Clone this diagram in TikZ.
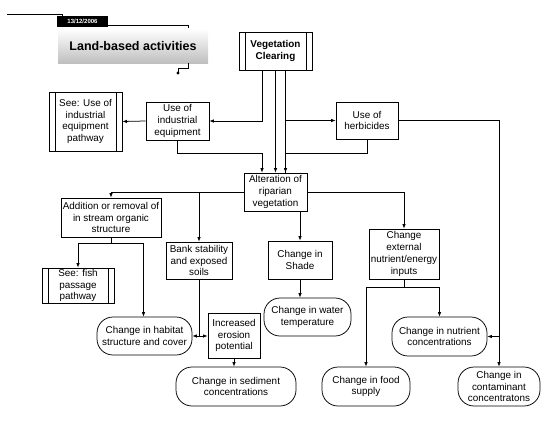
\documentclass[tikz,border=0pt]{standalone}
\usepackage{fontspec}
\setmainfont{Liberation Sans}
\usetikzlibrary{arrows.meta}
\tikzset{
	box/.style = {
		draw,
		rectangle,
		align=center,
		inner sep=1pt,
		line width=0.75pt,
		font=\fontsize{9.9}{11.8}\selectfont
	},
	pathbox/.style = {
		box,
		path picture={
			\draw[line width=0.75pt] ([xshift=6pt]path picture bounding box.north west) -- ([xshift=6pt]path picture bounding box.south west);
			\draw[line width=0.75pt] ([xshift=-6pt]path picture bounding box.north east) -- ([xshift=-6pt]path picture bounding box.south east);
		}
	},
	outcome/.style = {
		box,
		rounded corners=16pt
	},
	dims/.style 2 args = {
		minimum width=#1pt,
		minimum height=#2pt
	}
}
\tikzstyle{flow} = [-{Latex[length=4.5pt,width=3.5pt]}, line width=0.75pt]
\tikzstyle{link} = [line width=0.75pt]

\begin{document}
\begin{tikzpicture}[x=1pt, y=-1pt]
\useasboundingbox (0,0) rectangle (548,420);
% title banner
\draw[link] (7,14) -- (62,14) -- (62,16);
\node[fill=black, text=white, dims={51}{11}, inner sep=0pt, font=\fontsize{6}{6}\selectfont\bfseries] (date) at (82.5,21.5) {13/12/2006};
\draw[link] (108,25) -- (188,25) -- (188,29);
\node[top color=white, bottom color=black!25, dims={150}{34}, font=\fontsize{12.5}{14}\selectfont\bfseries] (title) at (133,46) {Land-based activities};
\draw[link] (188,63) -- (188,68) -- (178,68) -- (178,72);
\fill (178,73) circle (1.6);

% boxes
\node[pathbox, dims={73}{38}, font=\fontsize{9.9}{11.8}\selectfont\bfseries] (veg) at (275.5,51) {Vegetation\\Clearing};
\node[pathbox, dims={73}{59}] (seeind) at (85.5,121.5) {See: Use of\\industrial\\equipment\\pathway};
\node[box, dims={63}{38}] (ind) at (177.5,121) {Use of\\industrial\\equipment};
\node[box, dims={62}{37}] (herb) at (367,120.5) {Use of\\herbicides};
\node[box, dims={63}{38}] (alt) at (275.5,192) {Alteration of\\riparian\\vegetation};
\node[box, dims={100}{39}] (add) at (111,217.5) {Addition or removal of\\in stream organic\\structure};
\node[box, dims={66}{37}] (bank) at (199,260.5) {Bank stability\\and exposed\\soils};
\node[box, dims={64}{38}] (shade) at (300,260) {Change in\\Shade};
\node[box, dims={70}{50}] (ext) at (404,254) {Change\\external\\nutrient/energy\\inputs};
\node[pathbox, dims={72}{35}] (fish) at (78,285.5) {See: fish\\passage\\pathway};
\node[box, dims={52}{45}] (erosion) at (234,335.5) {Increased\\erosion\\potential};

% outcomes
\node[outcome, dims={95}{38}] (habitat) at (144.5,336) {Change in habitat\\structure and cover};
\node[outcome, dims={87}{38}] (water) at (307.5,317) {Change in water\\temperature};
\node[outcome, dims={120}{39}] (sediment) at (236,386.5) {Change in sediment\\concentrations};
\node[outcome, dims={95}{39}] (nutrient) at (439.5,336.5) {Change in nutrient\\concentrations};
\node[outcome, dims={88}{39}] (food) at (366,386.5) {Change in food\\supply};
\node[outcome, dims={82}{39}] (contam) at (499,386.5) {Change in\\contaminant\\concentratons};

% connectors
\draw[flow] ([xshift=-13.5pt]veg.south) |- (ind.east);
\draw[flow] (veg.south) -- (alt.north);
\draw[flow] ([xshift=10pt]veg.south) -- ([xshift=10pt]alt.north);
\draw[flow] ([xshift=10pt]veg.south |- herb.west) -- (herb.west);
\draw[flow] (ind.west) -- (seeind.east);
\draw[flow] (ind.south) -- ++(0,13) -| ([xshift=-13.5pt]alt.north);
\draw[link] (herb.south) -- ++(0,14) -| ([xshift=10pt]alt.north);
\draw[flow] (herb.east) -| (contam.north);
\draw[flow] (nutrient.east -| contam.north) -- (nutrient.east);
\draw[flow] (alt.west) -| (add.north);
\draw[flow] (alt.west -| bank.north) -- (bank.north);
\draw[flow] (alt.east) -| (ext.north);
\draw[flow] (alt.south -| shade.north) -- (shade.north);
\draw[flow] (shade.south) -- (shade.south |- water.north);
\draw[flow] (add.south) -- ++(0,6) -| (fish.north);
\draw[flow] (add.south) -- ++(0,6) -| ([xshift=-1pt]habitat.north);
\draw[link] (bank.south) -- (bank.south |- habitat.east) coordinate (bk);
\draw[flow] (bk) -- (habitat.east);
\draw[flow] (bk) -- (bk -| erosion.west);
\draw[flow] (erosion.south) -- (erosion.south |- sediment.north);
\draw[flow] (ext.south) -- ++(0,8) -| (food.north);
\draw[flow] (ext.south) -- ++(0,8) -| (nutrient.north);
\end{tikzpicture}
\end{document}
